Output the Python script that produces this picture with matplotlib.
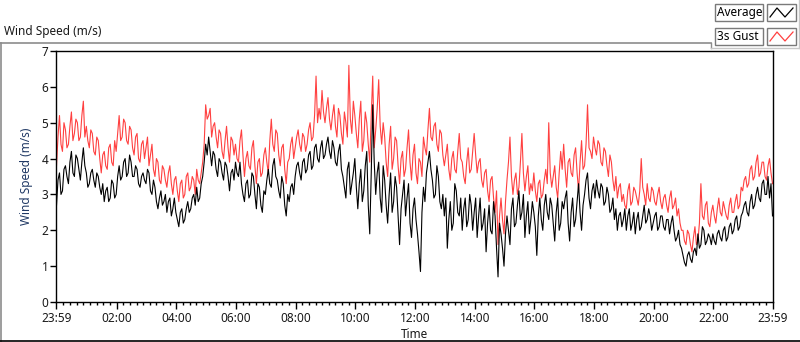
import numpy as np
import matplotlib
matplotlib.use("Agg")
import matplotlib.pyplot as plt
from matplotlib.patches import Rectangle
from matplotlib.lines import Line2D

plt.rcParams['font.family'] = ['Noto Sans', 'DejaVu Sans']

# readings at minutes 0, 6, 12, ... after 23:59
average_on6 = (
    [2.7, 3.6, 3.1, 3.8, 3.3, 4.2, 3.5, 4.0, 3.4, 4.3] +
    [3.6, 3.3, 3.7, 3.2, 3.5, 3.0, 2.8, 3.2, 2.9, 3.3] +
    [3.0, 3.8, 3.5, 4.0, 3.6, 3.9, 3.5, 3.7, 3.2, 3.6] +
    [3.3, 3.6, 3.0, 3.2, 2.6, 3.1, 2.8, 2.5, 2.9, 2.6] +
    [2.5, 2.1, 2.6, 2.3, 2.8, 2.6, 3.0, 3.2, 2.9, 3.5] +
    [4.4, 4.6, 3.8, 4.1, 3.5, 3.9, 3.4, 3.8, 3.1, 3.7] +
    [3.9, 3.5, 3.3, 2.8, 3.4, 3.0, 3.5, 2.6, 3.2, 2.5] +
    [3.0, 3.7, 3.2, 4.0, 3.4, 2.9, 3.3, 2.4, 2.8, 3.3] +
    [3.5, 3.9, 3.4, 4.0, 3.7, 4.2, 3.8, 4.4, 3.9, 4.5] +
    [4.1, 4.6, 4.0, 4.3, 3.8, 4.4, 3.5, 2.9, 3.9, 3.3] +
    [4.0, 2.6, 3.7, 3.1, 4.2, 1.9, 5.5, 3.0, 3.9, 2.5] +
    [3.4, 2.2, 3.6, 2.8, 3.2, 1.6, 3.0, 2.4, 3.3, 1.8] +
    [2.9, 1.9, 0.85, 3.2, 3.6, 4.2, 3.4, 3.0, 3.5, 2.6] +
    [2.4, 1.5, 2.8, 2.2, 3.1, 2.4, 2.0, 2.9, 2.3, 2.7] +
    [2.5, 1.8, 2.9, 2.2, 1.4, 2.7, 1.9, 2.4, 0.7, 1.9] +
    [1.0, 2.4, 1.6, 2.9, 2.2, 3.1, 2.5, 1.8, 2.8, 2.3] +
    [2.5, 1.3, 2.9, 2.0, 3.0, 2.3, 2.7, 1.7, 2.9, 2.2] +
    [2.6, 3.1, 1.7, 2.9, 2.3, 3.3, 2.0, 3.0, 3.6, 2.6] +
    [3.3, 3.4, 2.9, 3.2, 2.8, 3.0, 2.6, 2.3, 2.0, 2.5] +
    [2.3, 2.0, 2.6, 2.2, 1.9, 2.5, 2.1, 2.7, 2.3, 2.4] +
    [2.2, 2.5, 2.1, 2.4, 2.0, 2.3, 2.2, 2.0, 1.8, 1.6] +
    [1.3, 1.0, 1.4, 1.1, 1.5, 1.9, 1.6, 2.0, 1.7, 1.8] +
    [1.9, 1.6, 2.0, 1.7, 2.1, 1.8, 2.2, 2.0, 2.4, 2.1] +
    [2.5, 2.8, 2.4, 3.0, 2.7, 3.2, 2.8, 3.4, 3.0, 2.9] +
    [2.4]
)
# readings at minutes 3, 9, 15, ...
average_mid = (
    [3.4, 3.0, 3.7, 3.5, 3.9, 3.6, 4.1, 3.7, 3.9, 3.8] +
    [3.2, 3.6, 3.4, 3.6, 3.2, 3.3, 3.1, 2.8, 3.4, 2.9] +
    [3.5, 3.4, 3.9, 3.5, 4.1, 3.5, 3.8, 3.3, 3.5, 3.4] +
    [3.7, 3.1, 3.4, 2.8, 2.9, 2.7, 3.0, 2.8, 2.4, 2.9] +
    [2.3, 2.5, 2.2, 2.6, 2.5, 2.9, 2.7, 2.8, 3.3, 3.9] +
    [4.1, 4.2, 4.2, 3.7, 4.0, 3.6, 3.9, 3.5, 3.6, 3.4] +
    [3.6, 3.9, 3.0, 3.3, 2.9, 3.6, 3.0, 3.3, 2.7, 3.1] +
    [3.4, 3.3, 3.8, 3.5, 3.1, 3.5, 2.7, 3.0, 3.2, 3.0] +
    [3.8, 3.6, 3.9, 3.6, 4.1, 3.7, 4.3, 4.0, 4.3, 4.0] +
    [4.4, 4.2, 4.5, 3.9, 4.2, 3.7, 3.2, 3.7, 3.0, 3.6] +
    [3.2, 3.3, 2.8, 3.8, 2.7, 3.6, 3.9, 3.6, 2.9, 3.8] +
    [2.7, 3.0, 2.5, 3.5, 2.4, 2.6, 3.4, 2.9, 2.2, 2.6] +
    [2.3, 1.4, 2.5, 2.8, 3.9, 3.7, 2.9, 3.8, 2.8, 3.0] +
    [2.9, 2.3, 2.0, 3.3, 2.5, 2.9, 2.6, 2.1, 3.0, 2.0] +
    [2.9, 2.4, 2.0, 2.6, 2.2, 2.0, 2.8, 1.5, 2.2, 1.5] +
    [1.9, 2.0, 2.6, 2.1, 2.7, 2.3, 3.0, 2.4, 1.9, 2.8] +
    [2.1, 2.4, 2.3, 2.7, 2.5, 2.9, 2.2, 2.5, 2.0, 2.8] +
    [2.9, 2.2, 2.5, 2.1, 2.8, 2.5, 2.7, 3.4, 2.9, 3.1] +
    [2.9, 3.1, 3.3, 2.7, 3.2, 2.5, 2.9, 2.6, 2.4, 2.1] +
    [2.6, 2.4, 2.0, 2.5, 2.3, 2.0, 2.4, 2.2, 2.6, 2.0] +
    [2.4, 2.0, 2.4, 2.1, 2.3, 1.9, 2.4, 1.7, 2.0, 1.5] +
    [1.1, 1.3, 1.2, 1.4, 1.3, 1.5, 2.1, 1.6, 1.9, 1.6] +
    [1.7, 1.9, 1.8, 2.0, 1.7, 2.1, 1.9, 2.3, 2.0, 2.4] +
    [2.7, 2.5, 2.8, 2.6, 3.0, 2.9, 3.3, 3.0, 3.5, 3.3]
)

gust_on6 = (
    [3.8, 5.2, 4.2, 4.8, 4.4, 5.3, 4.7, 5.0, 4.6, 5.6] +
    [4.9, 4.3, 4.7, 4.1, 4.5, 3.6, 4.2, 3.7, 4.4, 3.8] +
    [4.2, 5.2, 4.6, 5.0, 4.4, 4.8, 4.1, 4.7, 3.9, 4.5] +
    [4.3, 3.8, 4.4, 3.5, 3.9, 3.3, 3.7, 3.2, 3.8, 3.0] +
    [3.5, 2.8, 3.4, 3.0, 3.6, 3.2, 3.4, 3.7, 3.3, 3.9] +
    [5.5, 5.2, 4.6, 5.0, 4.3, 4.7, 4.0, 4.9, 3.9, 4.5] +
    [4.4, 3.9, 4.8, 3.5, 4.2, 3.7, 4.5, 3.3, 4.0, 3.6] +
    [4.3, 3.6, 5.1, 4.2, 4.7, 3.8, 4.4, 3.3, 4.0, 4.6] +
    [4.3, 4.8, 4.2, 4.6, 4.4, 5.0, 4.6, 6.3, 5.4, 5.9] +
    [5.0, 5.7, 4.8, 5.5, 4.6, 5.2, 4.4, 5.0, 6.6, 4.7] +
    [5.2, 4.3, 5.6, 4.5, 5.0, 3.9, 6.3, 4.8, 6.2, 4.4] +
    [4.6, 3.5, 4.9, 4.0, 4.5, 3.3, 4.2, 3.7, 4.8, 3.4] +
    [4.4, 3.3, 3.9, 4.6, 4.1, 5.4, 4.5, 5.0, 4.2, 4.7] +
    [3.8, 4.4, 3.4, 4.2, 3.6, 4.7, 3.9, 3.3, 4.3, 3.7] +
    [4.7, 3.6, 4.0, 3.2, 3.7, 2.8, 3.5, 2.5, 1.6, 2.9] +
    [1.9, 3.4, 4.6, 3.0, 3.6, 3.2, 4.7, 3.1, 3.8, 3.3] +
    [3.6, 2.8, 3.4, 3.0, 3.7, 5.0, 3.2, 3.8, 2.9, 4.2] +
    [4.4, 3.2, 4.0, 3.5, 4.3, 3.1, 4.5, 3.8, 5.5, 4.2] +
    [4.6, 4.1, 4.4, 3.8, 4.2, 3.5, 3.9, 3.1, 2.9, 3.3] +
    [3.0, 2.6, 3.3, 2.8, 3.1, 2.7, 4.0, 3.0, 3.3, 2.8] +
    [3.1, 2.7, 3.2, 2.6, 3.0, 2.5, 3.1, 2.7, 2.4, 2.2] +
    [2.0, 1.6, 1.9, 1.4, 2.1, 1.7, 3.3, 2.3, 2.8, 2.1] +
    [2.7, 2.2, 2.9, 2.4, 2.6, 2.3, 2.9, 2.5, 3.0, 2.7] +
    [3.1, 3.5, 3.3, 3.8, 3.5, 4.1, 3.6, 3.9, 3.4, 4.0] +
    [3.3]
)
gust_mid = (
    [4.6, 4.4, 5.0, 4.3, 4.9, 4.5, 5.1, 4.5, 5.2, 4.6] +
    [4.5, 4.8, 4.2, 4.6, 4.0, 4.1, 3.8, 4.3, 3.9, 4.5] +
    [4.7, 4.5, 5.1, 4.5, 4.9, 4.3, 4.6, 4.0, 4.4, 4.0] +
    [4.6, 4.1, 3.7, 4.0, 3.4, 3.8, 3.4, 3.6, 3.3, 3.4] +
    [3.1, 3.3, 2.9, 3.5, 3.1, 3.5, 3.0, 3.4, 3.6, 4.4] +
    [5.1, 5.4, 4.9, 4.6, 4.8, 4.2, 4.5, 4.3, 4.6, 4.1] +
    [4.0, 4.5, 4.1, 4.0, 3.8, 4.3, 3.8, 3.9, 3.5, 4.1] +
    [3.9, 4.5, 4.4, 4.8, 4.1, 4.3, 3.7, 3.9, 4.4, 4.0] +
    [4.6, 4.4, 4.7, 4.2, 4.8, 4.5, 5.2, 5.0, 5.1, 5.3] +
    [5.4, 5.1, 5.2, 4.9, 5.4, 4.7, 5.3, 4.6, 5.1, 5.6] +
    [4.7, 5.1, 4.2, 5.3, 4.4, 5.2, 4.3, 5.4, 4.9, 5.0] +
    [3.9, 4.4, 3.7, 4.6, 3.8, 4.0, 3.5, 4.3, 3.9, 4.1] +
    [3.6, 4.0, 3.5, 4.3, 4.8, 4.6, 4.9, 4.4, 4.8, 4.1] +
    [4.1, 3.7, 4.0, 3.7, 4.2, 4.0, 3.5, 3.9, 3.6, 4.2] +
    [4.1, 3.9, 3.4, 3.6, 3.1, 3.4, 2.9, 3.1, 2.4, 2.3] +
    [2.8, 3.9, 3.5, 3.4, 3.0, 3.9, 3.6, 3.5, 3.0, 3.1] +
    [3.1, 3.3, 2.9, 3.4, 3.3, 3.6, 3.5, 3.2, 3.6, 3.7] +
    [3.7, 3.9, 3.6, 4.1, 3.6, 3.9, 3.7, 4.4, 4.3, 4.0] +
    [4.3, 4.5, 3.9, 4.3, 3.8, 4.1, 3.4, 3.5, 3.2, 2.8] +
    [2.7, 3.1, 2.7, 3.2, 2.9, 3.1, 3.2, 2.7, 2.9, 3.2] +
    [2.8, 3.0, 2.8, 2.9, 2.7, 2.9, 2.6, 2.9, 2.6, 2.0] +
    [1.7, 2.0, 1.6, 1.8, 1.6, 2.2, 2.4, 2.7, 2.2, 2.5] +
    [2.4, 2.6, 2.5, 2.8, 2.4, 2.7, 2.5, 2.8, 2.6, 3.2] +
    [3.4, 3.2, 3.7, 3.4, 3.9, 3.5, 3.9, 3.5, 3.8, 3.6]
)

step_minutes = 3
tick_minutes = [0, 121, 241, 361, 481, 601, 721, 841, 961, 1081, 1201, 1321, 1440]
tick_labels = ["23:59", "02:00", "04:00", "06:00", "08:00", "10:00", "12:00",
               "14:00", "16:00", "18:00", "20:00", "22:00", "23:59"]
y_ticks = [0, 1, 2, 3, 4, 5, 6, 7]
series_names = ["Average", "3s Gust"]
series_colors = ["#000000", "#ff4040"]


def merge(on6, mid):
    out = []
    for i, v in enumerate(on6):
        out.append(v)
        if i < len(mid):
            out.append(mid[i])
    return out


average = merge(average_on6, average_mid)
gust = merge(gust_on6, gust_mid)
minutes = [i * step_minutes for i in range(len(average))]

W, H = 800, 342
fig = plt.figure(figsize=(8.0, 3.42), dpi=100)
fig.patch.set_facecolor("white")


def fx(x):
    return x / W


def fy(y):
    return 1 - y / H


left, right, top, bottom = 56.5, 772.5, 51.0, 302.0
ax = fig.add_axes([fx(left), fy(bottom), fx(right) - fx(left), fy(top) - fy(bottom)])

ax.plot(minutes, gust, color=series_colors[1], lw=0.8, zorder=2)
ax.plot(minutes, average, color=series_colors[0], lw=0.8, zorder=3)

ax.set_xlim(0, 1440)
ax.set_ylim(0, 7)
ax.set_yticks(y_ticks)
ax.set_xticks(tick_minutes)
ax.set_xticklabels(tick_labels)
minor = []
for a, b in zip(tick_minutes[:-1], tick_minutes[1:]):
    minor.extend(list(np.linspace(a, b, 10)[1:-1]))
ax.set_xticks(minor, minor=True)

for s in ax.spines.values():
    s.set_color("black")
    s.set_linewidth(1.0)

tick_color = "#1a1a1a"
ax.tick_params(axis="both", which="major", direction="out", length=4, width=1,
               colors="black", labelcolor=tick_color, labelsize=8.5, pad=2)
ax.tick_params(axis="x", which="minor", direction="out", length=2.5, width=1, colors="black")
ax.tick_params(axis="x", which="major", length=5, pad=2)

ax.set_ylabel("Wind Speed (m/s)", fontsize=8.5, color="#1f3864", labelpad=6)
ax.set_xlabel("Time", fontsize=8.5, color="#1a1a1a", labelpad=2)

# chart frame
fig.add_artist(Line2D([fx(0), fx(711)], [fy(42.5), fy(42.5)], color="#8c8c8c", lw=1.2))
fig.add_artist(Line2D([fx(1), fx(1)], [fy(42.5), fy(342)], color="#8c8c8c", lw=1.2))
fig.add_artist(Line2D([fx(0), fx(800)], [fy(341), fy(341)], color="black", lw=1.2))
fig.add_artist(Line2D([fx(711), fx(711)], [fy(42.5), fy(48)], color="#8c8c8c", lw=1.0))
fig.add_artist(Line2D([fx(711), fx(800)], [fy(48), fy(48)], color="#c8c8c8", lw=1.0))
fig.add_artist(Line2D([fx(799), fx(799)], [fy(0), fy(48)], color="#c8c8c8", lw=1.0))

fig.text(fx(4), fy(31), "Wind Speed (m/s)", fontsize=8.5, color="#1a1a1a",
         ha="left", va="center")

# legend
for i, (name, col) in enumerate(zip(series_names, series_colors)):
    y0 = 4 + i * 24
    fig.add_artist(Rectangle((fx(715), fy(y0 + 17)), fx(48), 17 / H,
                             facecolor="white", edgecolor="#7a7a7a", lw=1.0))
    fig.text(fx(717), fy(y0 + 8.5), name, fontsize=8.5, color="black",
             ha="left", va="center")
    fig.add_artist(Rectangle((fx(767), fy(y0 + 17)), fx(29), 17 / H,
                             facecolor="white", edgecolor="#7a7a7a", lw=1.0))
    fig.add_artist(Line2D([fx(770), fx(777), fx(785), fx(793)],
                          [fy(y0 + 13), fy(y0 + 4), fy(y0 + 13), fy(y0 + 4)],
                          color=col, lw=0.9))

fig.savefig("out.png", dpi=100, facecolor="white")
